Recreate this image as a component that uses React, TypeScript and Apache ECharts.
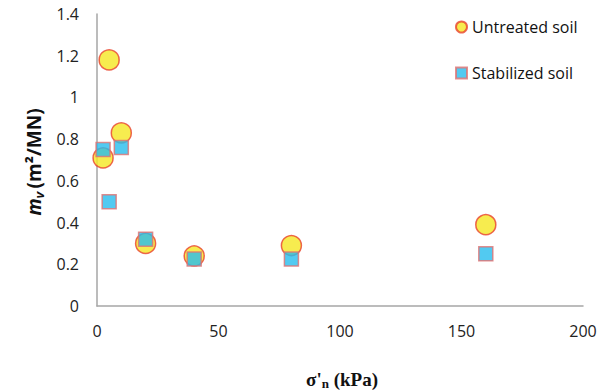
import React, { useEffect, useRef } from "react";
import * as echarts from "echarts";

const stress = [2.5, 5, 10, 20, 40, 80, 160];
const untreated = [0.71, 1.18, 0.83, 0.3, 0.24, 0.29, 0.39];
const stabilized = [0.75, 0.5, 0.76, 0.32, 0.225, 0.225, 0.25];
const seriesNames = ["Untreated soil", "Stabilized soil"];

export default function App() {
  const ref = useRef<HTMLDivElement>(null);
  useEffect(() => {
    const chart = echarts.init(ref.current!, null, { renderer: "svg" });
    const font = "'Open Sans', sans-serif";
    chart.setOption({
      animation: false,
      backgroundColor: "#ffffff",
      grid: { left: 97, right: 24, top: 14, bottom: 86 },
      xAxis: {
        type: "value",
        min: 0,
        max: 200,
        interval: 50,
        axisLine: { lineStyle: { color: "#a6a6a6", width: 1.5 } },
        axisTick: { show: false },
        splitLine: { show: false },
        axisLabel: { color: "#222", fontSize: 16, fontFamily: font, margin: 17 },
      },
      yAxis: {
        type: "value",
        min: 0,
        max: 1.4,
        interval: 0.2,
        axisLine: { show: true, lineStyle: { color: "#a6a6a6", width: 1.5 } },
        axisTick: { show: false },
        splitLine: { show: false },
        axisLabel: { color: "#222", fontSize: 16, fontFamily: font, margin: 18 },
      },
      legend: {
        orient: "vertical",
        left: 450,
        top: 14,
        itemGap: 30,
        itemWidth: 11,
        itemHeight: 11,
        textStyle: { fontSize: 16, fontFamily: font, color: "#111", padding: [0, 0, 0, 0] },
        data: [
          { name: seriesNames[0], icon: "circle" },
          { name: seriesNames[1], icon: "rect" },
        ],
      },
      series: [
        {
          name: seriesNames[0],
          type: "scatter",
          symbol: "circle",
          symbolSize: 20,
          itemStyle: { color: "#f5e723", borderColor: "#e8412b", borderWidth: 1.5 },
          data: stress.map((x, i) => [x, untreated[i]]),
          z: 2,
        },
        {
          name: seriesNames[1],
          type: "scatter",
          symbol: "rect",
          symbolSize: 14,
          itemStyle: { color: "#27bdee", borderColor: "#e07272", borderWidth: 1.5 },
          data: stress.map((x, i) => [x, stabilized[i]]),
          z: 3,
        },
      ],
      graphic: [
        {
          type: "text",
          x: 34,
          y: 162,
          rotation: Math.PI / 2,
          style: {
            text: "{m|m}{v|v} {b|(m²/MN)}",
            align: "center",
            verticalAlign: "middle",
            rich: {
              m: { fontSize: 19, fontWeight: "bold", fontStyle: "italic", fontFamily: font, fill: "#111" },
              v: { fontSize: 13, fontWeight: "bold", fontStyle: "italic", fontFamily: font, fill: "#111", verticalAlign: "bottom", padding: [9, 0, 0, 0] },
              b: { fontSize: 19, fontWeight: "bold", fontFamily: font, fill: "#111" },
            },
          },
        },
        {
          type: "text",
          x: 342,
          y: 379,
          style: {
            text: "{a|σ'}{n|n}{a| (kPa)}",
            align: "center",
            verticalAlign: "middle",
            rich: {
              a: { fontSize: 19, fontWeight: "bold", fontFamily: "'Liberation Serif', serif", fill: "#111" },
              n: { fontSize: 13, fontWeight: "bold", fontFamily: "'Liberation Serif', serif", fill: "#111", padding: [9, 0, 0, 0] },
            },
          },
        },
      ],
    });
    return () => chart.dispose();
  }, []);
  return <div ref={ref} style={{ position: "fixed", left: 0, top: 0, width: 607, height: 392 }} />;
}
